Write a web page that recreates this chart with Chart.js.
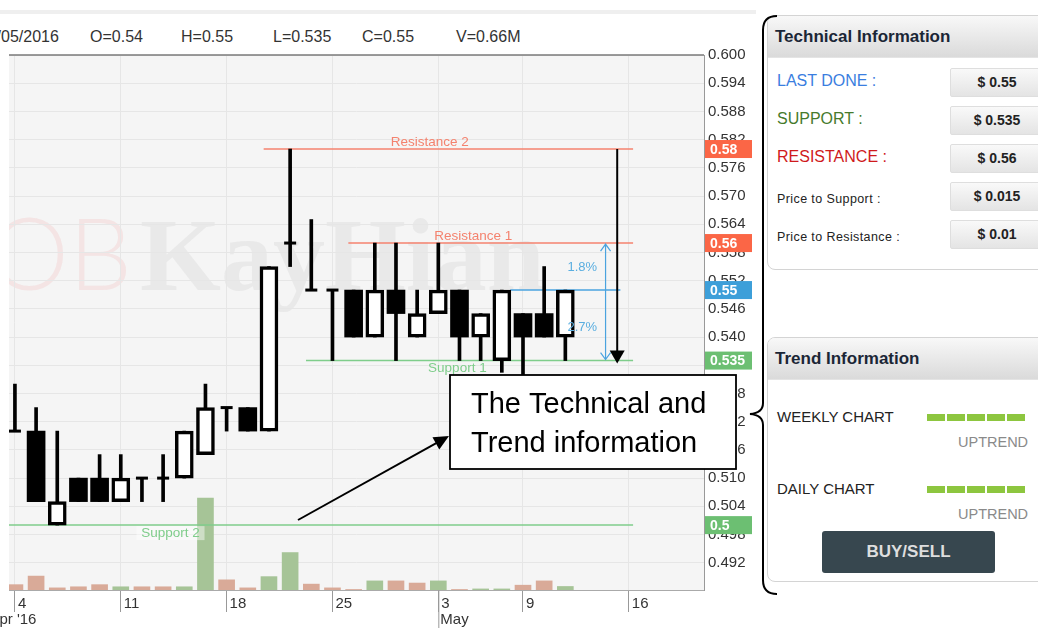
<!DOCTYPE html>
<html>
<head>
<meta charset="utf-8">
<script src="https://cdn.jsdelivr.net/npm/chart.js@4.4.1/dist/chart.umd.min.js"></script>
<style>
  body { margin: 0; width: 1038px; height: 628px; overflow: hidden; background: #fff; position: relative;
         font-family: "Liberation Sans", Arial, sans-serif; }
  #topband { position: absolute; left: 0; top: 10px; width: 756px; height: 4px; background: #efefef; }
  #ohlc span { position: absolute; top: 28px; font-size: 16px; line-height: 18px; color: #333; white-space: nowrap; }
  #wrap { position: absolute; left: 0; top: 0; z-index: 5; }
  .panel { position: absolute; left: 767px; width: 290px; border: 1px solid #d4d4d4; border-radius: 8px; background: #fff; overflow: hidden; }
  .panel .hd { height: 41px; line-height: 42px; padding-left: 7px; font-weight: bold; font-size: 17px; color: #1b2636;
               background: linear-gradient(#f8f8f8, #dadada); border-bottom: 1px solid #e4e4e4; }
  .lbl { position: absolute; left: 9px; height: 28px; line-height: 28px; font-size: 16px; white-space: nowrap; }
  .lbl.small { font-size: 12.5px; letter-spacing: 0.4px; color: #222; }
  .val { position: absolute; left: 182px; width: 92px; height: 27px; line-height: 27px; text-align: center; font-weight: bold;
         font-size: 14px; color: #222; background: linear-gradient(#f9f9f9, #e4e4e4); border: 1px solid #dedede; border-radius: 2px; }
  .trend { position: absolute; left: 9px; font-size: 15px; color: #222; height: 20px; line-height: 20px; }
  .bars { position: absolute; left: 159px; height: 7px; display: flex; gap: 2px; }
  .bars i { display: block; width: 18px; height: 7px; background: #8dc63f; }
  .up { position: absolute; left: 190px; font-size: 14.5px; color: #8a8a8a; height: 20px; line-height: 20px; }
  .btn { position: absolute; left: 54px; top: 193px; width: 173px; height: 42px; line-height: 42px; text-align: center;
         background: #37474f; color: #dedede; font-weight: bold; font-size: 17px; border-radius: 3px; }
</style>
</head>
<body>
<div id="topband"></div>
<div id="ohlc"></div>

<div class="panel" style="top:15px;height:253px;">
  <div class="hd">Technical Information</div>
  <div class="lbl" style="top:51px;color:#3a7ee0;">LAST DONE :</div>
  <div class="lbl" style="top:89px;color:#467a2c;">SUPPORT :</div>
  <div class="lbl" style="top:127px;color:#cf1a1c;">RESISTANCE :</div>
  <div class="lbl small" style="top:169px;">Price to Support :</div>
  <div class="lbl small" style="top:207px;">Price to Resistance :</div>
  <div class="val" style="top:52px;" id="vLast"></div>
  <div class="val" style="top:90px;" id="vSup"></div>
  <div class="val" style="top:128px;" id="vRes"></div>
  <div class="val" style="top:166px;" id="vToSup"></div>
  <div class="val" style="top:204px;" id="vToRes"></div>
</div>

<div class="panel" style="top:337px;height:243px;">
  <div class="hd">Trend Information</div>
  <div class="trend" style="top:69px;">WEEKLY CHART</div>
  <div class="bars" style="top:76px;"><i></i><i></i><i></i><i></i><i></i></div>
  <div class="up" style="top:94px;">UPTREND</div>
  <div class="trend" style="top:141px;">DAILY CHART</div>
  <div class="bars" style="top:148px;"><i></i><i></i><i></i><i></i><i></i></div>
  <div class="up" style="top:166px;">UPTREND</div>
  <div class="btn">BUY/SELL</div>
</div>

<div id="wrap"><canvas id="priceChart" width="780" height="628"></canvas></div>

<script>
// Daily candles, 4 Apr - 11 May 2016
const dates  = ['4','5','6','7','8','11','12','13','14','15','18','19','20','21','22','25','26','27','28','29','3','4','5','6','9','10','11'];
const openP  = [0.52, 0.52, 0.50, 0.51, 0.51, 0.505, 0.51, 0.51, 0.51, 0.515, 0.525, 0.525, 0.52, 0.56, 0.55, 0.55, 0.55, 0.54, 0.55, 0.54, 0.545, 0.55, 0.54, 0.535, 0.545, 0.545, 0.54];
const highP  = [0.53, 0.525, 0.52, 0.51, 0.515, 0.515, 0.51, 0.515, 0.52, 0.53, 0.525, 0.525, 0.555, 0.58, 0.565, 0.55, 0.55, 0.56, 0.56, 0.55, 0.56, 0.55, 0.545, 0.55, 0.545, 0.555, 0.55];
const lowP   = [0.52, 0.505, 0.50, 0.505, 0.505, 0.505, 0.505, 0.505, 0.51, 0.515, 0.52, 0.52, 0.52, 0.555, 0.55, 0.535, 0.54, 0.54, 0.535, 0.54, 0.545, 0.535, 0.535, 0.5325, 0.532, 0.54, 0.535];
const closeP = [0.52, 0.505, 0.505, 0.505, 0.505, 0.51, 0.51, 0.51, 0.52, 0.525, 0.525, 0.52, 0.555, 0.56, 0.55, 0.55, 0.54, 0.55, 0.545, 0.545, 0.55, 0.54, 0.545, 0.55, 0.54, 0.54, 0.55];
const volumeM = [1.0, 2.6, 0.4, 0.6, 1.0, 0.6, 0.6, 0.6, 0.6, 17.2, 1.9, 0.4, 2.5, 7.0, 1.1, 0.4, 0.1, 1.7, 1.7, 1.3, 1.7, 0.1, 0.2, 0.2, 0.9, 1.7, 0.66];

// axis ticks
const yTicks = [0.600, 0.594, 0.588, 0.582, 0.576, 0.570, 0.564, 0.558, 0.552, 0.546, 0.540, 0.534, 0.528, 0.522, 0.516, 0.510, 0.504, 0.498, 0.492];
const xTickIdx = [0, 5, 10, 15, 20, 24, 29];
const xTickText = ['4', '11', '18', '25', '3', '9', '16'];
const monthIdx = [-1.3, 20];
const monthText = ["Apr '16", 'May'];

// support / resistance levels (start = trading-day index where the line begins)
const levelNames  = ['Resistance 2', 'Resistance 1', 'Support 1', 'Support 2'];
const levelValues = [0.58, 0.56, 0.535, 0.5];
const levelStart  = [11.75, 15.75, 13.75, -1];
const levelEnd    = 29.2;
const lastDone = 0.55;
const lastDoneStart = 23.4;
const pctText = ['1.8%', '2.7%'];

const last = dates.length - 1;
const ohlcText = ['11/05/2016', 'O=' + openP[last], 'H=' + highP[last], 'L=' + lowP[last], 'C=' + closeP[last], 'V=' + volumeM[last] + 'M'];
const ohlcX = [-20, 90, 181, 273, 362, 456];
const ohlcDiv = document.getElementById('ohlc');
ohlcText.forEach((t, i) => {
  const s = document.createElement('span');
  s.textContent = t;
  s.style.left = ohlcX[i] + 'px';
  ohlcDiv.appendChild(s);
});

// side panel values
const fmt = n => '$ ' + +n.toFixed(3);
document.getElementById('vLast').textContent = fmt(lastDone);
document.getElementById('vSup').textContent = fmt(levelValues[2]);
document.getElementById('vRes').textContent = fmt(levelValues[1]);
document.getElementById('vToSup').textContent = fmt(lastDone - levelValues[2]);
document.getElementById('vToRes').textContent = fmt(levelValues[1] - lastDone);

// build candle pieces
const idx = dates.map((d, i) => i);
const wicks = idx.filter(i => highP[i] > lowP[i]).map(i => ({ x: i, y: [lowP[i], highP[i]] }));
const upBodies = idx.filter(i => closeP[i] > openP[i]).map(i => ({ x: i, y: [openP[i], closeP[i]] }));
const downBodies = idx.filter(i => closeP[i] < openP[i]).map(i => ({ x: i, y: [closeP[i], openP[i]] }));
const dojis = idx.filter(i => closeP[i] === openP[i]).map(i => ({ x: i, y: openP[i] }));
const volData = idx.map(i => ({ x: i, y: volumeM[i] }));
const volColors = idx.map(i => (i > 0 && closeP[i] > closeP[i - 1]) ? '#a6c497' : '#d9aa98');

const resColor = '#f4826e';
const supColor = '#7fcd8b';
const blue = '#4aa3df';
const levelColor = i => levelValues[i] > lastDone ? resColor : supColor;

const levelSets = levelValues.map((v, i) => ({
  type: 'line',
  data: [{ x: levelStart[i], y: v }, { x: levelEnd, y: v }],
  borderColor: levelColor(i), borderWidth: 1.5, pointRadius: 0, order: 8
}));
levelSets.push({
  type: 'line',
  data: [{ x: lastDoneStart, y: lastDone }, { x: 28.6, y: lastDone }],
  borderColor: blue, borderWidth: 1.5, pointRadius: 0, order: 8
});

function arrowHead(ctx, x, y, ang, len, half) {
  const c = Math.cos(ang), s = Math.sin(ang);
  ctx.beginPath();
  ctx.moveTo(x, y);
  ctx.lineTo(x - len * c - half * s, y - len * s + half * c);
  ctx.lineTo(x - len * c + half * s, y - len * s - half * c);
  ctx.closePath();
  ctx.fill();
}

const overlay = {
  id: 'overlay',
  beforeDraw(chart) {
    const { ctx, chartArea: a } = chart;
    ctx.save();
    ctx.fillStyle = '#f5f5f5';
    ctx.fillRect(a.left, a.top, a.right - a.left, a.bottom - a.top);
    ctx.beginPath();
    ctx.rect(a.left, a.top, a.right - a.left, a.bottom - a.top);
    ctx.clip();
    // watermark
    ctx.textBaseline = 'alphabetic';
    ctx.textAlign = 'right';
    ctx.font = '300 100px Lato, "Open Sans", sans-serif';
    ctx.fillStyle = 'rgba(240,170,170,0.22)';
    ctx.fillText('UOB', 132, 290);
    ctx.textAlign = 'left';
    ctx.font = 'bold 104px "Liberation Serif", serif';
    ctx.fillStyle = 'rgba(190,190,190,0.22)';
    ctx.fillText('KayHian', 140, 290);
    ctx.restore();
  },
  afterDatasetsDraw(chart) {
    const { ctx, scales: { x, y } } = chart;
    ctx.save();
    ctx.font = '13.5px "Liberation Sans", Arial, sans-serif';
    ctx.textAlign = 'center';
    ctx.textBaseline = 'middle';
    const labelAt = [19.6, 21.65, 20.9, 7.35];
    levelValues.forEach((v, i) => {
      const cx = x.getPixelForValue(labelAt[i]);
      const cy = y.getPixelForValue(v) + (v > lastDone ? -7 : 8);
      if (i === 3) {
        ctx.fillStyle = 'rgba(255,255,255,0.45)';
        ctx.fillRect(cx - 34, cy - 7, 68, 14);
      }
      ctx.fillStyle = levelColor(i);
      ctx.fillText(levelNames[i], cx, cy);
    });
    // blue distance arrow
    const ax = x.getPixelForValue(27.9);
    const yTop = y.getPixelForValue(levelValues[1]);
    const yBot = y.getPixelForValue(levelValues[2]);
    const yMid = y.getPixelForValue(lastDone);
    ctx.strokeStyle = blue;
    ctx.lineWidth = 1.2;
    ctx.beginPath();
    ctx.moveTo(ax, yTop + 1); ctx.lineTo(ax, yBot - 1);
    ctx.moveTo(ax - 5, yTop + 8); ctx.lineTo(ax, yTop + 1); ctx.lineTo(ax + 5, yTop + 8);
    ctx.moveTo(ax - 5, yBot - 8); ctx.lineTo(ax, yBot - 1); ctx.lineTo(ax + 5, yBot - 8);
    ctx.stroke();
    ctx.fillStyle = '#5aaee0';
    ctx.font = '13px "Liberation Sans", Arial, sans-serif';
    const px = x.getPixelForValue(26.8);
    ctx.fillText(pctText[0], px, (yTop + yMid) / 2 + 1);
    ctx.fillText(pctText[1], px, (yMid + yBot) / 2 + 2);
    ctx.restore();
  },
  afterDraw(chart) {
    const { ctx, chartArea: a, scales: { x, y } } = chart;
    ctx.save();
    // plot top border
    ctx.strokeStyle = '#7a7a7a';
    ctx.lineWidth = 1.5;
    ctx.beginPath(); ctx.moveTo(a.left, a.top); ctx.lineTo(a.right, a.top); ctx.stroke();

    // month labels under the day ticks
    ctx.font = '15px "Liberation Sans", Arial, sans-serif';
    ctx.fillStyle = '#333';
    ctx.textAlign = 'left';
    ctx.textBaseline = 'middle';
    monthIdx.forEach((m, i) => {
      const mx = x.getPixelForValue(m);
      ctx.strokeStyle = '#999';
      ctx.lineWidth = 1;
      ctx.beginPath(); ctx.moveTo(mx + 0.5, a.bottom); ctx.lineTo(mx + 0.5, 628); ctx.stroke();
      ctx.fillText(monthText[i], mx + 2, 620);
    });

    // price badges on the right axis
    ctx.font = 'bold 14px "Liberation Sans", Arial, sans-serif';
    const badge = (v, color) => {
      const by = y.getPixelForValue(v);
      ctx.fillStyle = color;
      ctx.fillRect(a.right + 1, by - 9, 47, 18);
      ctx.fillStyle = '#fff';
      ctx.fillText(String(v), a.right + 6, by + 1);
    };
    levelValues.forEach((v, i) => badge(v, v > lastDone ? '#fb6646' : '#6cbf72'));
    badge(lastDone, '#3d9fd9');

    // callout: vertical arrow from resistance 2 down to support 1
    const vx = x.getPixelForValue(28.45);
    const vTop = y.getPixelForValue(levelValues[0]);
    const vBot = y.getPixelForValue(levelValues[2]) + 3;
    ctx.strokeStyle = '#000';
    ctx.fillStyle = '#000';
    ctx.lineWidth = 2;
    ctx.beginPath(); ctx.moveTo(vx, vTop); ctx.lineTo(vx, vBot - 10); ctx.stroke();
    arrowHead(ctx, vx, vBot, Math.PI / 2, 13, 7.5);

    // text box
    ctx.fillStyle = '#fff';
    ctx.fillRect(450, 375, 286, 94);
    ctx.lineWidth = 1.8;
    ctx.strokeRect(450, 375, 286, 94);
    ctx.fillStyle = '#000';
    ctx.font = '29px "Liberation Sans", Arial, sans-serif';
    ctx.textBaseline = 'alphabetic';
    ctx.fillText('The Technical and', 471, 413);
    ctx.fillText('Trend information', 471, 452);

    // diagonal arrow into the box
    ctx.lineWidth = 2;
    const ang = Math.atan2(436 - 520, 449 - 298);
    ctx.beginPath(); ctx.moveTo(298, 520); ctx.lineTo(449 - 12 * Math.cos(ang), 436 - 12 * Math.sin(ang)); ctx.stroke();
    arrowHead(ctx, 449, 436, ang, 15, 7);

    // brace around the side panels
    ctx.lineWidth = 2;
    ctx.beginPath();
    ctx.moveTo(777, 16);
    ctx.quadraticCurveTo(763, 16, 763, 30);
    ctx.lineTo(763, 403);
    ctx.quadraticCurveTo(763, 413, 750, 414);
    ctx.quadraticCurveTo(763, 415, 763, 425);
    ctx.lineTo(763, 580);
    ctx.quadraticCurveTo(763, 594, 777, 594);
    ctx.stroke();
    ctx.restore();
  }
};

const priceChart = new Chart(document.getElementById('priceChart'), {
  type: 'bar',
  data: {
    datasets: [
      { data: volData, yAxisID: 'yv', backgroundColor: volColors, barThickness: 16, grouped: false, order: 10 },
      ...levelSets,
      { data: wicks, backgroundColor: '#000', barThickness: 3, grouped: false, order: 3 },
      { data: downBodies, backgroundColor: '#000', barThickness: 18, grouped: false, order: 2 },
      { data: upBodies, backgroundColor: '#fff', borderColor: '#000', borderWidth: 3.5, borderSkipped: false, barThickness: 18, grouped: false, order: 2 },
      { type: 'line', data: dojis, showLine: false, pointStyle: 'line', pointRadius: 6, pointBorderWidth: 3, borderColor: '#000', order: 1 }
    ]
  },
  options: {
    responsive: false,
    devicePixelRatio: 1,
    animation: false,
    layout: { padding: { left: 8, top: 55, right: 20, bottom: 0 } },
    plugins: { legend: { display: false }, tooltip: { enabled: false } },
    scales: {
      x: {
        type: 'linear', min: -0.28, max: 32.55, offset: false,
        afterBuildTicks: s => { s.ticks = xTickIdx.map(v => ({ value: v })); },
        afterFit: s => { s.height = 38; },
        ticks: {
          autoSkip: false, align: 'start', labelOffset: 3, padding: -17, color: '#333',
          font: { size: 15, family: '"Liberation Sans", Arial, sans-serif' },
          callback: (v, i) => xTickText[i]
        },
        grid: { color: '#e6e6e6', tickColor: '#999', tickLength: 22, offset: false },
        border: { color: '#aaa' }
      },
      y: {
        position: 'right', min: 0.4862, max: 0.6,
        afterBuildTicks: s => { s.ticks = yTicks.map(v => ({ value: v })); },
        afterFit: s => { s.width = 56; },
        ticks: {
          autoSkip: false, padding: 4, color: '#333',
          font: { size: 15, family: '"Liberation Sans", Arial, sans-serif' },
          callback: v => v.toFixed(3)
        },
        grid: { color: '#e6e6e6', drawTicks: false },
        border: { color: '#999' }
      },
      yv: { display: false, min: 0, max: 100 }
    }
  },
  plugins: [overlay]
});
</script>
</body>
</html>
